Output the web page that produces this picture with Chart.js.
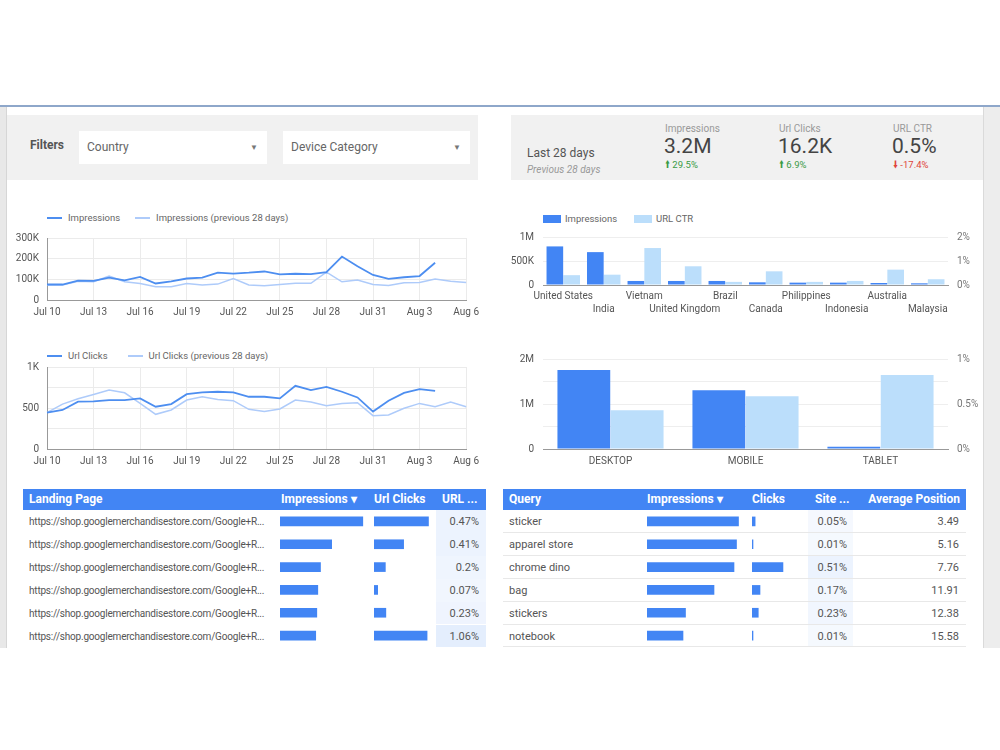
<!DOCTYPE html>
<html>
<head>
<meta charset="utf-8">
<script src="https://cdn.jsdelivr.net/npm/chart.js@4.4.0/dist/chart.umd.min.js"></script>
<style>
body { margin: 0; width: 1000px; height: 750px; position: relative; overflow: hidden; background: #fff; font-family: Roboto, "Noto Sans", sans-serif; color: #555; }
.abs { position: absolute; }
.panel { background: #f1f1f1; }
.dd { background: #fff; font-size: 12px; color: #666; line-height: 33px; }
.dd .arrow { position: absolute; font-size: 8px; color: #777; top: 0; }
.sc-label { font-size: 10px; color: #999; }
.sc-value { font-size: 21px; color: #444; }
.sc-up { font-size: 9.5px; color: #3a9a45; }
.sc-down { font-size: 9.5px; color: #e0453b; }
.legend { display: flex; align-items: center; font-size: 9.5px; color: #666; white-space: nowrap; }
.legend .ln { display: inline-block; width: 15px; height: 2px; margin-right: 6px; }
.legend .bx { display: inline-block; width: 18px; height: 8px; margin-right: 4px; }
.hdr { background: #4285f4; color: #fff; font-weight: bold; font-size: 12px; height: 21px; }
.hdr span { position: absolute; top: 3px; white-space: nowrap; }
.cell { position: absolute; font-size: 11px; color: #555; white-space: nowrap; line-height: 23px; }
.url { font-size: 10px; letter-spacing: -0.2px; width: 242px; overflow: hidden; }
canvas { position: absolute; }
</style>
</head>
<body>

<div class="abs" style="left:0;top:105px;width:1000px;height:2px;background:#8ea7ca"></div>
<div class="abs" style="left:0;top:107px;width:6px;height:541px;background:#e8e8e8;border-right:1px solid #d6d6d6"></div>
<div class="abs" style="left:983px;top:107px;width:17px;height:541px;background:#ededed;border-left:1px solid #dadada"></div>

<!-- filters -->
<div class="abs panel" style="left:7px;top:115px;width:471px;height:65px"></div>
<div class="abs" style="left:30px;top:138px;font-size:12px;font-weight:bold;color:#555">Filters</div>
<div class="abs dd" style="left:79px;top:131px;width:188px;height:33px"><span style="position:absolute;left:8px">Country</span><span class="arrow" style="left:171px">&#9660;</span></div>
<div class="abs dd" style="left:283px;top:131px;width:187px;height:33px"><span style="position:absolute;left:8px">Device Category</span><span class="arrow" style="left:170px">&#9660;</span></div>

<!-- scorecards -->
<div class="abs panel" style="left:511px;top:115px;width:472px;height:65px"></div>
<div class="abs" style="left:527px;top:146px;font-size:12px;color:#555">Last 28 days</div>
<div class="abs" style="left:527px;top:164px;font-size:10px;color:#999;font-style:italic">Previous 28 days</div>

<div class="abs sc-label" style="left:665px;top:123px">Impressions</div>
<div class="abs sc-value" style="left:664px;top:134px">3.2M</div>
<div class="abs sc-up" style="left:665px;top:158px">&#129049; 29.5%</div>

<div class="abs sc-label" style="left:779px;top:123px">Url Clicks</div>
<div class="abs sc-value" style="left:778px;top:134px">16.2K</div>
<div class="abs sc-up" style="left:779px;top:158px">&#129049; 6.9%</div>

<div class="abs sc-label" style="left:893px;top:123px">URL CTR</div>
<div class="abs sc-value" style="left:892px;top:134px">0.5%</div>
<div class="abs sc-down" style="left:893px;top:158px">&#129051; -17.4%</div>

<!-- legends -->
<div class="abs legend" style="left:47px;top:212px">
  <span class="ln" style="background:#4d8ef0"></span><span>Impressions</span>
  <span class="ln" style="background:#aecbfa;margin-left:15px"></span><span>Impressions (previous 28 days)</span>
</div>
<div class="abs legend" style="left:47px;top:350px">
  <span class="ln" style="background:#4d8ef0"></span><span>Url Clicks</span>
  <span class="ln" style="background:#aecbfa;margin-left:20px"></span><span>Url Clicks (previous 28 days)</span>
</div>
<div class="abs legend" style="left:543px;top:213px">
  <span class="bx" style="background:#4285f4"></span><span>Impressions</span>
  <span class="bx" style="background:#bbdefb;margin-left:17px"></span><span>URL CTR</span>
</div>

<canvas id="impLine" width="475" height="94" style="left:10px;top:224px"></canvas>
<canvas id="clickLine" width="475" height="114" style="left:10px;top:353px"></canvas>
<canvas id="countryBar" width="485" height="93" style="left:505px;top:222px"></canvas>
<canvas id="deviceBar" width="485" height="123" style="left:505px;top:344px"></canvas>

<!-- tables -->
<div class="abs hdr" style="left:23px;top:489px;width:463px">
  <span style="left:6px">Landing Page</span>
  <span style="left:258px">Impressions &#9662;</span>
  <span style="left:351px">Url Clicks</span>
  <span style="left:419px">URL ...</span>
</div>
<div class="abs hdr" style="left:503px;top:489px;width:463px">
  <span style="left:6px">Query</span>
  <span style="left:144px">Impressions &#9662;</span>
  <span style="left:249px">Clicks</span>
  <span style="left:312px">Site ...</span>
  <span style="right:6px">Average Position</span>
</div>
<div id="rows"></div>

<canvas id="lpImp" width="90" height="137" style="left:280px;top:510px"></canvas>
<canvas id="lpClicks" width="58" height="137" style="left:374px;top:510px"></canvas>
<canvas id="qImp" width="100" height="137" style="left:647px;top:510px"></canvas>
<canvas id="qClicks" width="40" height="137" style="left:752px;top:510px"></canvas>

<script>
// daily series
const dayLabels = ['Jul 10','Jul 11','Jul 12','Jul 13','Jul 14','Jul 15','Jul 16','Jul 17','Jul 18','Jul 19',
  'Jul 20','Jul 21','Jul 22','Jul 23','Jul 24','Jul 25','Jul 26','Jul 27','Jul 28','Jul 29',
  'Jul 30','Jul 31','Aug 1','Aug 2','Aug 3','Aug 4','Aug 5','Aug 6'];
const impressions = [75000,75000,94000,93000,108000,95000,112000,80000,90000,104000,108000,132000,128000,
  132000,138000,124000,127000,125000,135000,210000,163000,121000,102000,110000,116000,180000];
const impressionsPrev = [72000,72000,91000,88000,116000,88000,80000,64000,64000,80000,73000,77000,104000,
  73000,69000,75000,81000,81000,135000,88000,97000,75000,70000,83000,85000,102000,91000,85000];
const urlClicks = [444,476,577,581,597,597,617,516,548,669,690,698,690,637,637,617,770,718,758,698,
  629,456,589,685,730,710];
const urlClicksPrev = [444,548,613,665,718,685,556,423,476,597,637,605,589,484,456,488,597,573,528,556,
  565,407,415,496,556,516,573,516];

// by country
const countries = ['United States','India','Vietnam','United Kingdom','Brazil','Canada','Philippines','Indonesia','Australia','Malaysia'];
const countryImpressions = [804000,685000,84000,84000,84000,56000,49000,49000,42000,35000];
const countryCtr = [0.41,0.43,1.54,0.78,0.13,0.57,0.13,0.17,0.64,0.24];

// by device
const devices = ['DESKTOP','MOBILE','TABLET'];
const deviceImpressions = [1756000,1304000,52000];
const deviceCtr = [0.43,0.585,0.822];

// landing page table
const landingPages = ['https://shop.googlemerchandisestore.com/Google+R...','https://shop.googlemerchandisestore.com/Google+R...',
  'https://shop.googlemerchandisestore.com/Google+R...','https://shop.googlemerchandisestore.com/Google+R...',
  'https://shop.googlemerchandisestore.com/Google+R...','https://shop.googlemerchandisestore.com/Google+R...'];
const landingImpressions = [92000,57400,45000,42000,40900,39700];
const landingClicks = [432,235,90,29,94,421];
const landingCtr = [0.47,0.41,0.2,0.07,0.23,1.06];

// query table
const queries = ['sticker','apparel store','chrome dino','bag','stickers','notebook'];
const queryImpressions = [18300,17900,17400,13400,7700,7200];
const queryClicks = [9,2,89,23,18,1];
const queryCtr = [0.05,0.01,0.51,0.17,0.23,0.01];
const queryPosition = [3.49,5.16,7.76,11.91,12.38,15.58];

const DARK = '#4285f4', LIGHT = '#bbdefb';
const LINE = '#4d8ef0', LINE_PREV = '#aecbfa';

Chart.defaults.font.family = 'Roboto';
Chart.defaults.font.size = 10;
Chart.defaults.color = '#555';
Chart.defaults.animation = false;

function fmt(v) {
  if (v >= 1e6) return v / 1e6 + 'M';
  if (v >= 1000) return v / 1000 + 'K';
  return String(v);
}

function lineChart(id, cur, prev, max, step, labelEvery) {
  new Chart(document.getElementById(id), {
    type: 'line',
    data: {
      labels: dayLabels,
      datasets: [
        { data: cur, borderColor: LINE, borderWidth: 1.8, pointRadius: 0, tension: 0 },
        { data: prev, borderColor: LINE_PREV, borderWidth: 1.5, pointRadius: 0, tension: 0 }
      ]
    },
    options: {
      responsive: false,
      plugins: { legend: { display: false }, tooltip: { enabled: false } },
      scales: {
        x: {
          grid: { color: c => c.index % 3 === 0 ? '#ebebeb' : 'transparent', drawTicks: false },
          border: { color: '#999' },
          ticks: { autoSkip: false, maxRotation: 0, padding: 6, callback: (v, i) => i % 3 === 0 ? dayLabels[i] : '' },
          afterFit: s => { s.height = 18; }
        },
        y: {
          min: 0, max: max,
          grid: { color: '#ebebeb', drawTicks: false },
          border: { color: '#999' },
          ticks: { stepSize: step, padding: 8, callback: v => v % labelEvery === 0 ? fmt(v) : '' },
          afterFit: s => { s.width = 37; }
        }
      }
    }
  });
}

lineChart('impLine', impressions, impressionsPrev, 300000, 50000, 100000);
lineChart('clickLine', urlClicks, urlClicksPrev, 1000, 250, 500);

function dualBar(id, labels, imp, ctr, opts) {
  new Chart(document.getElementById(id), {
    type: 'bar',
    data: {
      labels: labels,
      datasets: [
        { data: imp, backgroundColor: DARK, yAxisID: 'y', categoryPercentage: opts.cat, barPercentage: 0.99 },
        { data: ctr, backgroundColor: LIGHT, yAxisID: 'y1', categoryPercentage: opts.cat, barPercentage: 0.99 }
      ]
    },
    options: {
      responsive: false,
      plugins: { legend: { display: false }, tooltip: { enabled: false } },
      scales: {
        x: {
          grid: { drawOnChartArea: false, drawTicks: false },
          border: { color: '#999' },
          ticks: { autoSkip: false, maxRotation: 0, padding: opts.xPad, font: { size: 10, lineHeight: 1.3 },
            callback: opts.xLabel },
          afterFit: s => { s.height = opts.xHeight; }
        },
        y: {
          min: 0, max: opts.max,
          grid: { color: '#eeeeee', drawTicks: false },
          border: { display: false },
          ticks: { stepSize: opts.step, padding: 9, callback: v => v % opts.labelEvery === 0 ? fmt(v) : '' },
          afterFit: s => { s.width = 38; }
        },
        y1: {
          position: 'right',
          min: 0, max: opts.ctrMax,
          grid: { drawOnChartArea: false, drawTicks: false },
          border: { display: false },
          ticks: { stepSize: opts.ctrStep, padding: 9, color: '#777', callback: v => v + '%' },
          afterFit: s => { s.width = 42; }
        }
      }
    }
  });
}

dualBar('countryBar', countries, countryImpressions, countryCtr, {
  cat: 0.83, max: 1000000, step: 250000, labelEvery: 500000, ctrMax: 2, ctrStep: 1,
  xPad: 5, xHeight: 30,
  xLabel: function (v, i) { const l = this.getLabelForValue(v); return i % 2 ? ['', l] : l; }
});
dualBar('deviceBar', devices, deviceImpressions, deviceCtr, {
  cat: 0.79, max: 2000000, step: 500000, labelEvery: 1000000, ctrMax: 1, ctrStep: 0.5,
  xPad: 6, xHeight: 18,
  xLabel: function (v) { return this.getLabelForValue(v); }
});

// table bars
function tableBars(id, values, max) {
  new Chart(document.getElementById(id), {
    type: 'bar',
    data: { labels: values.map((_, i) => i), datasets: [{ data: values, backgroundColor: DARK, barThickness: 9, minBarLength: 1 }] },
    options: {
      indexAxis: 'y',
      responsive: false,
      layout: { padding: 0 },
      plugins: { legend: { display: false }, tooltip: { enabled: false } },
      scales: { x: { display: false, min: 0, max: max }, y: { display: false } }
    }
  });
}
tableBars('lpImp', landingImpressions, 100000);
tableBars('lpClicks', landingClicks, 460);
tableBars('qImp', queryImpressions, 20000);
tableBars('qClicks', queryClicks, 115);

// table text rows
const rows = document.getElementById('rows');
const ROW_TOP = 510, ROW_H = 22.9;
function cell(text, style, cls) {
  const d = document.createElement('div');
  d.className = 'cell' + (cls ? ' ' + cls : '');
  d.style.cssText = style;
  d.textContent = text;
  rows.appendChild(d);
  return d;
}
const maxLp = Math.max(...landingCtr), maxQ = Math.max(...queryCtr);
landingPages.forEach((p, i) => {
  const top = ROW_TOP + i * ROW_H;
  const heat = document.createElement('div');
  heat.className = 'abs';
  heat.style.cssText = `left:436px;top:${top}px;width:50px;height:${ROW_H}px;background:rgba(66,133,244,${0.07 + 0.07 * landingCtr[i] / maxLp})`;
  rows.appendChild(heat);
  cell(p, `left:29px;top:${top}px`, 'url');
  cell(landingCtr[i] + '%', `right:${1000 - 479}px;top:${top}px`);
});
queries.forEach((q, i) => {
  const top = ROW_TOP + i * ROW_H;
  const heat = document.createElement('div');
  heat.className = 'abs';
  heat.style.cssText = `left:808px;top:${top}px;width:45px;height:${ROW_H}px;background:rgba(66,133,244,${0.05 + 0.05 * queryCtr[i] / maxQ})`;
  rows.appendChild(heat);
  const line = document.createElement('div');
  line.className = 'abs';
  line.style.cssText = `left:503px;top:${top + ROW_H - 1}px;width:463px;height:1px;background:#e8e8e8`;
  rows.appendChild(line);
  cell(q, `left:509px;top:${top}px`);
  cell(queryCtr[i] + '%', `right:${1000 - 847}px;top:${top}px`);
  cell(queryPosition[i].toFixed(2), `right:${1000 - 959}px;top:${top}px`);
});
</script>
</body>
</html>
